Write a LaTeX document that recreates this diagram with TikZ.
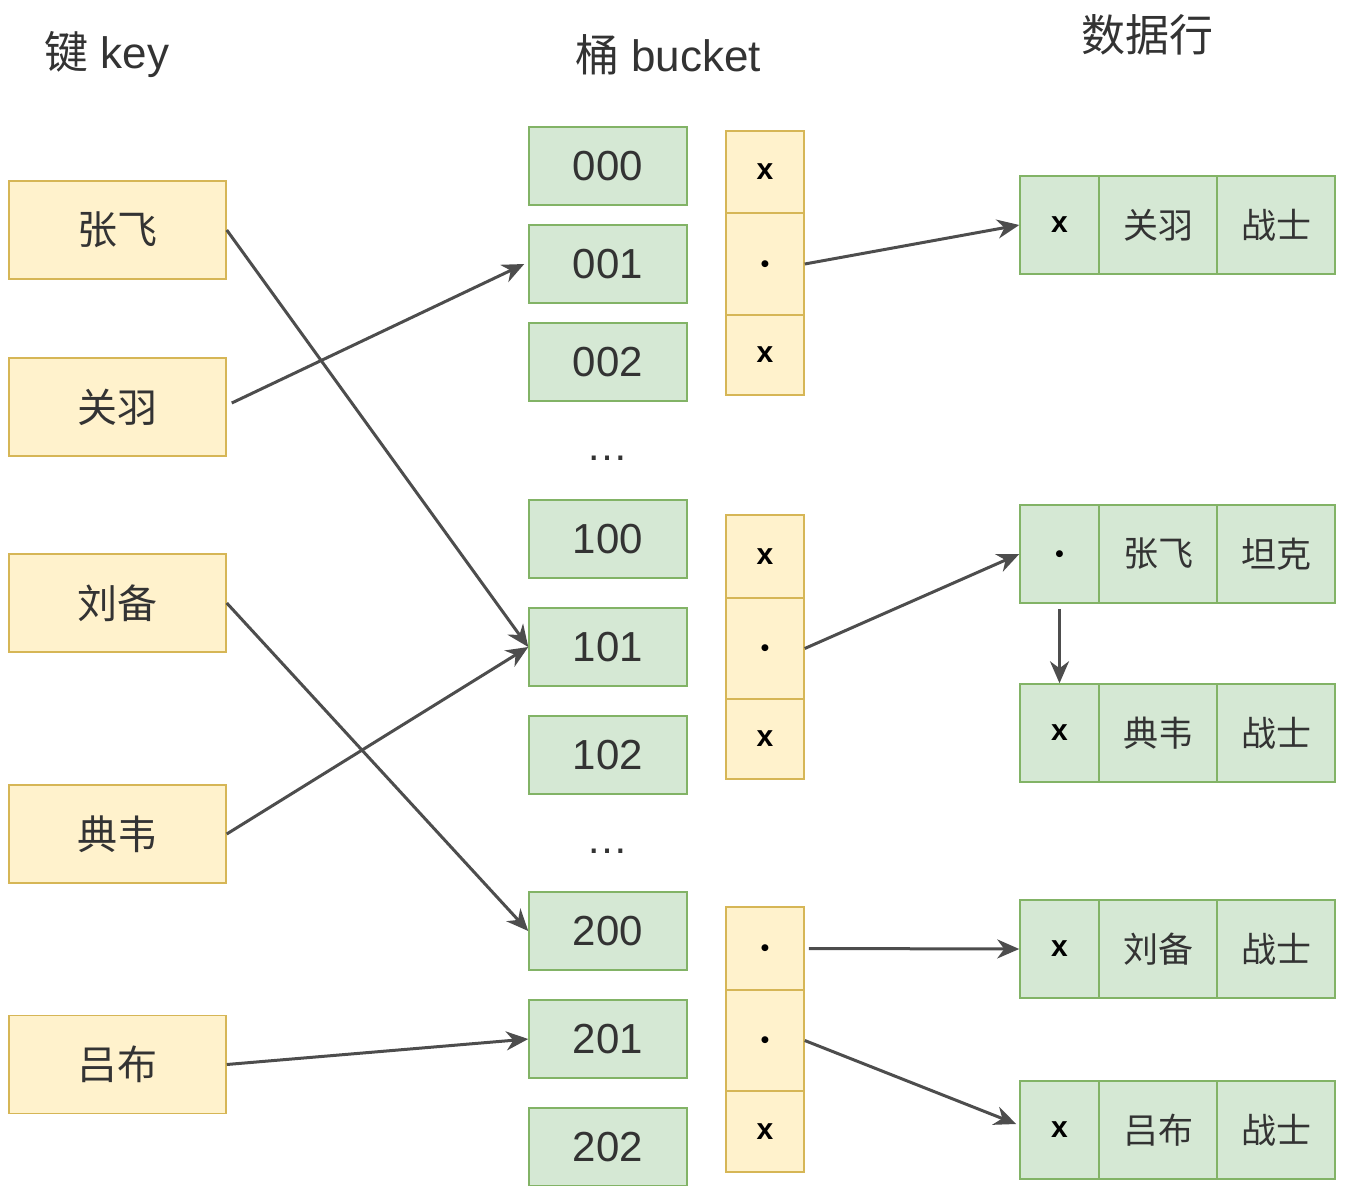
\documentclass[tikz,border=0pt]{standalone}
\usepackage{fontspec}
\setmainfont{Liberation Sans}
\newfontfamily\cjk{Noto Sans CJK SC}
\newfontfamily\dejavu{DejaVu Sans}
\usetikzlibrary{arrows.meta}
\definecolor{yfill}{HTML}{FFF2CC}
\definecolor{ystroke}{HTML}{D6B656}
\definecolor{gfill}{HTML}{D5E8D4}
\definecolor{gstroke}{HTML}{82B366}
\definecolor{txt}{HTML}{333333}
\definecolor{arr}{HTML}{4D4D4D}
\tikzset{
  keybox/.style={draw=ystroke, fill=yfill, line width=1.5pt, minimum width=217pt, minimum height=98pt, inner sep=0pt, text=txt, font=\cjk\fontsize{40}{42}\selectfont},
  bucketbox/.style={draw=gstroke, fill=gfill, line width=1.5pt, minimum width=158pt, minimum height=78pt, inner sep=0pt, text=txt, font=\fontsize{42}{44}\selectfont},
  ptrcell/.style={draw=ystroke, fill=yfill, line width=1.5pt, minimum width=78pt, inner sep=0pt, text=black, font=\bfseries\fontsize{30}{32}\selectfont},
  rowcell/.style={draw=gstroke, fill=gfill, line width=1.5pt, minimum height=98pt, inner sep=0pt, text=txt, font=\cjk\fontsize{35}{37}\selectfont},
  flagcell/.style={rowcell, minimum width=79pt, text=black, font=\bfseries\fontsize{30}{32}\selectfont},
  namecell/.style={rowcell, minimum width=118pt},
  header/.style={text=txt, inner sep=0pt},
  ptrdot/.style={font=\dejavu\fontsize{9}{10}\selectfont},
  ellip/.style={text=txt, inner sep=0pt, font=\fontsize{42}{44}\selectfont},
  link/.style={draw=arr, line width=3pt, -{Stealth[length=22pt,width=19pt,inset=7pt]}},
}
\begin{document}
\begin{tikzpicture}[x=1pt,y=-1pt]
\useasboundingbox (0,0) rectangle (1345,1186);
% headers
\node[header, font=\fontsize{44}{46}\selectfont] (hkey) at (107,55) {{\cjk 键} key};
\node[header, font=\fontsize{44}{46}\selectfont] (hbucket) at (668,55) {{\cjk 桶} bucket};
\node[header, font=\cjk\fontsize{44}{46}\selectfont] (hrow) at (1147,35) {数据行};
% keys
\node[keybox] (k1) at (117.5,230) {张飞};
\node[keybox] (k2) at (117.5,407) {关羽};
\node[keybox] (k3) at (117.5,603) {刘备};
\node[keybox] (k4) at (117.5,834) {典韦};
\node[keybox] (k5) at (117.5,1064.5) {吕布};
% buckets
\node[bucketbox] (b000) at (608,166) {000};
\node[bucketbox] (b001) at (608,264) {001};
\node[bucketbox] (b002) at (608,362) {002};
\node[bucketbox] (b100) at (608,539) {100};
\node[bucketbox] (b101) at (608,647) {101};
\node[bucketbox] (b102) at (608,755) {102};
\node[bucketbox] (b200) at (608,931) {200};
\node[bucketbox] (b201) at (608,1039) {201};
\node[bucketbox] (b202) at (608,1147) {202};
\node[ellip] (dots1) at (607,458) {…};
\node[ellip] (dots2) at (607,851) {…};
% pointer columns
\node[ptrcell, minimum height=82pt] (p1a) at (765,172) {x};
\node[ptrcell, minimum height=102pt, ptrdot] (p1b) at (765,264) {●};
\node[ptrcell, minimum height=80pt] (p1c) at (765,355) {x};
\node[ptrcell, minimum height=83pt] (p2a) at (765,556.5) {x};
\node[ptrcell, minimum height=101pt, ptrdot] (p2b) at (765,648.5) {●};
\node[ptrcell, minimum height=80pt] (p2c) at (765,739) {x};
\node[ptrcell, minimum height=83pt, ptrdot] (p3a) at (765,948.5) {●};
\node[ptrcell, minimum height=101pt, ptrdot] (p3b) at (765,1040.5) {●};
\node[ptrcell, minimum height=81pt] (p3c) at (765,1131.5) {x};
% data rows
\node[flagcell] (r1a) at (1059.5,225) {x};
\node[namecell] (r1b) at (1158,225) {关羽};
\node[namecell] (r1c) at (1276,225) {战士};
\node[flagcell, ptrdot] (r2a) at (1059.5,554) {●};
\node[namecell] (r2b) at (1158,554) {张飞};
\node[namecell] (r2c) at (1276,554) {坦克};
\node[flagcell] (r3a) at (1059.5,733) {x};
\node[namecell] (r3b) at (1158,733) {典韦};
\node[namecell] (r3c) at (1276,733) {战士};
\node[flagcell] (r4a) at (1059.5,949) {x};
\node[namecell] (r4b) at (1158,949) {刘备};
\node[namecell] (r4c) at (1276,949) {战士};
\node[flagcell] (r5a) at (1059.5,1130) {x};
\node[namecell] (r5b) at (1158,1130) {吕布};
\node[namecell] (r5c) at (1276,1130) {战士};
% connectors
\draw[link] (k1.east) -- (b101.west);
\draw[link] ([xshift=5pt,yshift=4pt]k2.east) -- ([xshift=-4pt]b001.west);
\draw[link] (k3.east) -- (b200.west);
\draw[link] (k4.east) -- (b101.west);
\draw[link] (k5.east) -- (b201.west);
\draw[link] (p1b.east) -- (r1a.west);
\draw[link] (p2b.east) -- (r2a.west);
\draw[link] ([yshift=-5pt]r2a.south) -- (r3a.north);
\draw[link] ([xshift=4pt]p3a.east) -- (r4a.west);
\draw[link] (p3b.east) -- ([xshift=-3pt,yshift=6pt]r5a.west);
\end{tikzpicture}
\end{document}
